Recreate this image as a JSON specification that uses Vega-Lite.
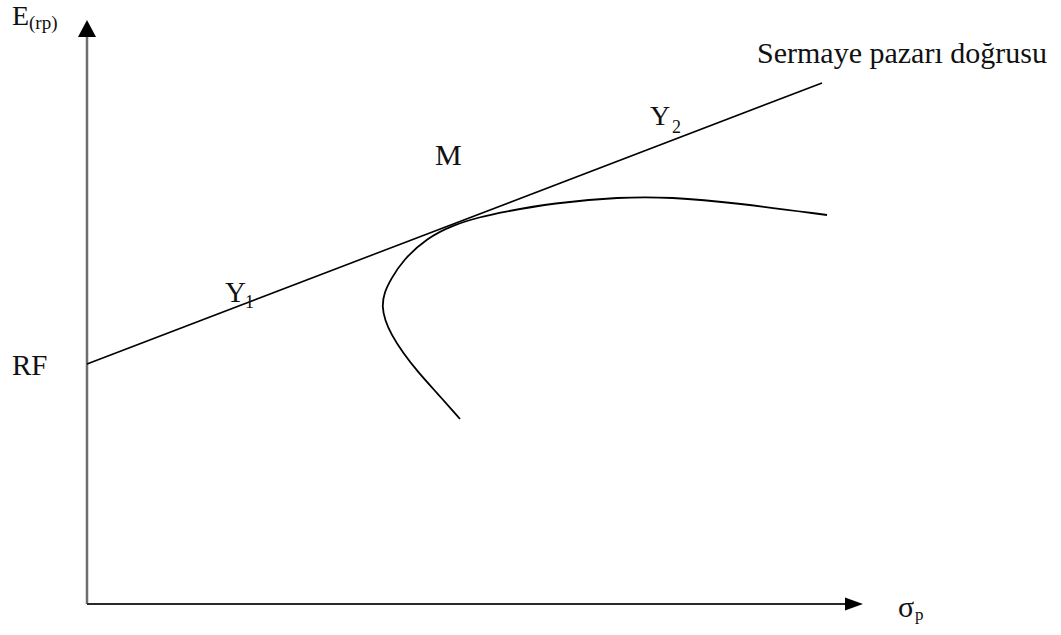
{
  "$schema": "https://vega.github.io/schema/vega-lite/v6.json",
  "width": 1061,
  "height": 635,
  "padding": 0,
  "autosize": {"type": "none"},
  "background": "white",
  "config": {"view": {"stroke": null}},
  "datasets": {
    "yaxis": [{"x": 0, "y": 0, "x2": 0, "y2": 568}],
    "xaxis": [{"x": 0, "y": 0, "x2": 760, "y2": 0}],
    "yarrow": [{"x": 0, "y": 575}],
    "xarrow": [{"x": 767, "y": 0}],
    "cml": [{"s": 0, "e": 240}, {"s": 735, "e": 521}],
    "frontier": [
      {"i": 1, "s": 373, "e": 185},
      {"i": 2, "s": 350, "e": 211},
      {"i": 3, "s": 331, "e": 232},
      {"i": 4, "s": 316, "e": 251},
      {"i": 5, "s": 304, "e": 270},
      {"i": 6, "s": 298, "e": 284},
      {"i": 7, "s": 295, "e": 297},
      {"i": 8, "s": 297, "e": 311},
      {"i": 9, "s": 304, "e": 325},
      {"i": 10, "s": 316, "e": 344},
      {"i": 11, "s": 340, "e": 366},
      {"i": 12, "s": 366, "e": 379},
      {"i": 13, "s": 393, "e": 387},
      {"i": 14, "s": 416, "e": 392},
      {"i": 15, "s": 466, "e": 401},
      {"i": 16, "s": 533, "e": 407},
      {"i": 17, "s": 583, "e": 407},
      {"i": 18, "s": 650, "e": 401},
      {"i": 19, "s": 740, "e": 389}
    ],
    "labels": [
      {"label": "E", "x": -75, "y": 579, "fs": 28},
      {"label": "(rp)", "x": -58, "y": 575, "fs": 19},
      {"label": "RF", "x": -75, "y": 229, "fs": 29},
      {"label": "Y", "x": 138, "y": 302, "fs": 29},
      {"label": "1", "x": 158, "y": 296, "fs": 18},
      {"label": "M", "x": 348, "y": 439, "fs": 30},
      {"label": "Y", "x": 563, "y": 479, "fs": 28},
      {"label": "2", "x": 585, "y": 471, "fs": 18},
      {"label": "Sermaye pazarı doğrusu", "x": 670, "y": 541, "fs": 30},
      {"label": "σ", "x": 811, "y": -13, "fs": 30},
      {"label": "p", "x": 828, "y": -16, "fs": 17}
    ]
  },
  "layer": [
    {
      "data": {"name": "yaxis"},
      "mark": {"type": "rule", "color": "#6e6e6e", "strokeWidth": 2.5},
      "encoding": {
        "x": {"field": "x", "type": "quantitative", "scale": {"domain": [-87, 974]}, "axis": null},
        "y": {"field": "y", "type": "quantitative", "scale": {"domain": [-31, 604]}, "axis": null},
        "x2": {"field": "x2"},
        "y2": {"field": "y2"}
      }
    },
    {
      "data": {"name": "xaxis"},
      "mark": {"type": "rule", "color": "#2a2a2a", "strokeWidth": 2},
      "encoding": {
        "x": {"field": "x", "type": "quantitative", "scale": {"domain": [-87, 974]}, "axis": null},
        "y": {"field": "y", "type": "quantitative", "scale": {"domain": [-31, 604]}, "axis": null},
        "x2": {"field": "x2"},
        "y2": {"field": "y2"}
      }
    },
    {
      "data": {"name": "yarrow"},
      "mark": {"type": "point", "filled": true, "color": "black", "opacity": 1, "size": 324, "shape": "M0,-1L1,0.9L-1,0.9Z"},
      "encoding": {
        "x": {"field": "x", "type": "quantitative", "scale": {"domain": [-87, 974]}, "axis": null},
        "y": {"field": "y", "type": "quantitative", "scale": {"domain": [-31, 604]}, "axis": null}
      }
    },
    {
      "data": {"name": "xarrow"},
      "mark": {"type": "point", "filled": true, "color": "black", "opacity": 1, "size": 324, "shape": "M1,0L-1,-0.72L-1,0.72Z"},
      "encoding": {
        "x": {"field": "x", "type": "quantitative", "scale": {"domain": [-87, 974]}, "axis": null},
        "y": {"field": "y", "type": "quantitative", "scale": {"domain": [-31, 604]}, "axis": null}
      }
    },
    {
      "data": {"name": "cml"},
      "mark": {"type": "line", "color": "black", "strokeWidth": 1.6},
      "encoding": {
        "x": {"field": "s", "type": "quantitative", "scale": {"domain": [-87, 974]}, "axis": null},
        "y": {"field": "e", "type": "quantitative", "scale": {"domain": [-31, 604]}, "axis": null}
      }
    },
    {
      "data": {"name": "frontier"},
      "mark": {"type": "line", "color": "black", "strokeWidth": 1.8, "interpolate": "basis"},
      "encoding": {
        "x": {"field": "s", "type": "quantitative", "scale": {"domain": [-87, 974]}, "axis": null},
        "y": {"field": "e", "type": "quantitative", "scale": {"domain": [-31, 604]}, "axis": null},
        "order": {"field": "i", "type": "quantitative"}
      }
    },
    {
      "data": {"name": "labels"},
      "mark": {"type": "text", "align": "left", "baseline": "alphabetic", "font": "Liberation Serif", "color": "#111"},
      "encoding": {
        "x": {"field": "x", "type": "quantitative", "scale": {"domain": [-87, 974]}, "axis": null},
        "y": {"field": "y", "type": "quantitative", "scale": {"domain": [-31, 604]}, "axis": null},
        "text": {"field": "label"},
        "size": {"field": "fs", "type": "quantitative", "scale": null, "legend": null}
      }
    }
  ]
}
